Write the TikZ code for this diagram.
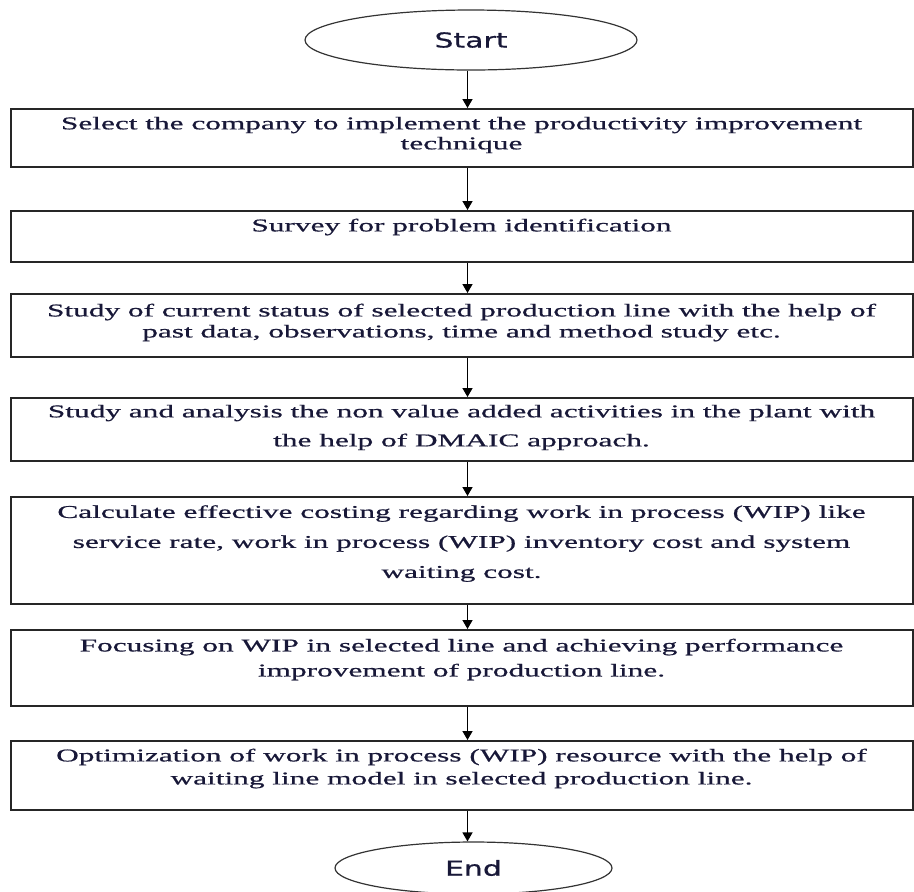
\documentclass[tikz,border=0pt]{standalone}
\usepackage{fontspec}
\setmainfont{Liberation Serif}[FakeStretch=1.74, FakeBold=0.8]
\newfontfamily\ovalfont{DejaVu Sans}[FakeStretch=1.45, FakeBold=0.6]
\usetikzlibrary{shapes.geometric,arrows.meta}

\definecolor{inkblue}{RGB}{24,24,56}
\newcommand{\steptext}[3]{\parbox{446pt}{\centering\setlength{\baselineskip}{#1}#3\par\vspace{#2}}}

\tikzset{
  stepbox/.style={draw=black!85, line width=1pt, rectangle, minimum width=451pt, inner sep=0pt, text=inkblue, font=\fontsize{9}{10}\selectfont},
  ovalbox/.style={draw=black!80, line width=0.6pt, ellipse, inner sep=0pt, text=inkblue, font=\ovalfont\fontsize{10.3}{12}\selectfont},
  flow/.style={line width=0.7pt, -{Triangle[width=5pt,length=4.5pt]}}
}

\begin{document}
\begin{tikzpicture}[x=0.5pt, y=-0.5pt]

\useasboundingbox (0,0) rectangle (914,891);
\coordinate (spine) at (467.5,0);

\node[ovalbox, minimum width=166pt, minimum height=30pt] (0) at (471,40) {Start};

\node[stepbox, minimum height=29pt] (1) at (461.5,138) {\steptext{10pt}{3pt}{Select the company to implement the productivity improvement\\ technique}};
\node[stepbox, minimum height=25.5pt] (2) at (461.5,236.5) {\steptext{10pt}{9.5pt}{Survey for problem identification}};
\node[stepbox, minimum height=31.5pt] (3) at (461.5,325.5) {\steptext{10.5pt}{3pt}{Study of current status of selected production line with the help of\\ past data, observations, time and method study etc.}};
\node[stepbox, minimum height=31.5pt] (4) at (461.5,429.5) {\steptext{14.5pt}{2pt}{Study and analysis the non value added activities in the plant with\\ the help of DMAIC approach.}};
\node[stepbox, minimum height=53.5pt] (5) at (461.5,550.5) {\steptext{15pt}{7pt}{Calculate effective costing regarding work in process (WIP) like\\ service rate, work in process (WIP) inventory cost and system\\ waiting cost.}};
\node[stepbox, minimum height=38pt] (6) at (461.5,668) {\steptext{12.5pt}{8.5pt}{Focusing on WIP in selected line and achieving performance\\ improvement of production line.}};
\node[stepbox, minimum height=34.5pt] (7) at (461.5,775.5) {\steptext{11.5pt}{7pt}{Optimization of work in process (WIP) resource with the help of\\ waiting line model in selected production line.}};

\node[ovalbox, minimum width=138.5pt, minimum height=26pt] (8) at (473.5,868) {End};

\draw[flow] (0.south -| spine) -- (1.north -| spine);
\draw[flow] (1.south -| spine) -- (2.north -| spine);
\draw[flow] (2.south -| spine) -- (3.north -| spine);
\draw[flow] (3.south -| spine) -- (4.north -| spine);
\draw[flow] (4.south -| spine) -- (5.north -| spine);
\draw[flow] (5.south -| spine) -- (6.north -| spine);
\draw[flow] (6.south -| spine) -- (7.north -| spine);
\draw[flow] (7.south -| spine) -- (8.north -| spine);

\end{tikzpicture}
\end{document}
